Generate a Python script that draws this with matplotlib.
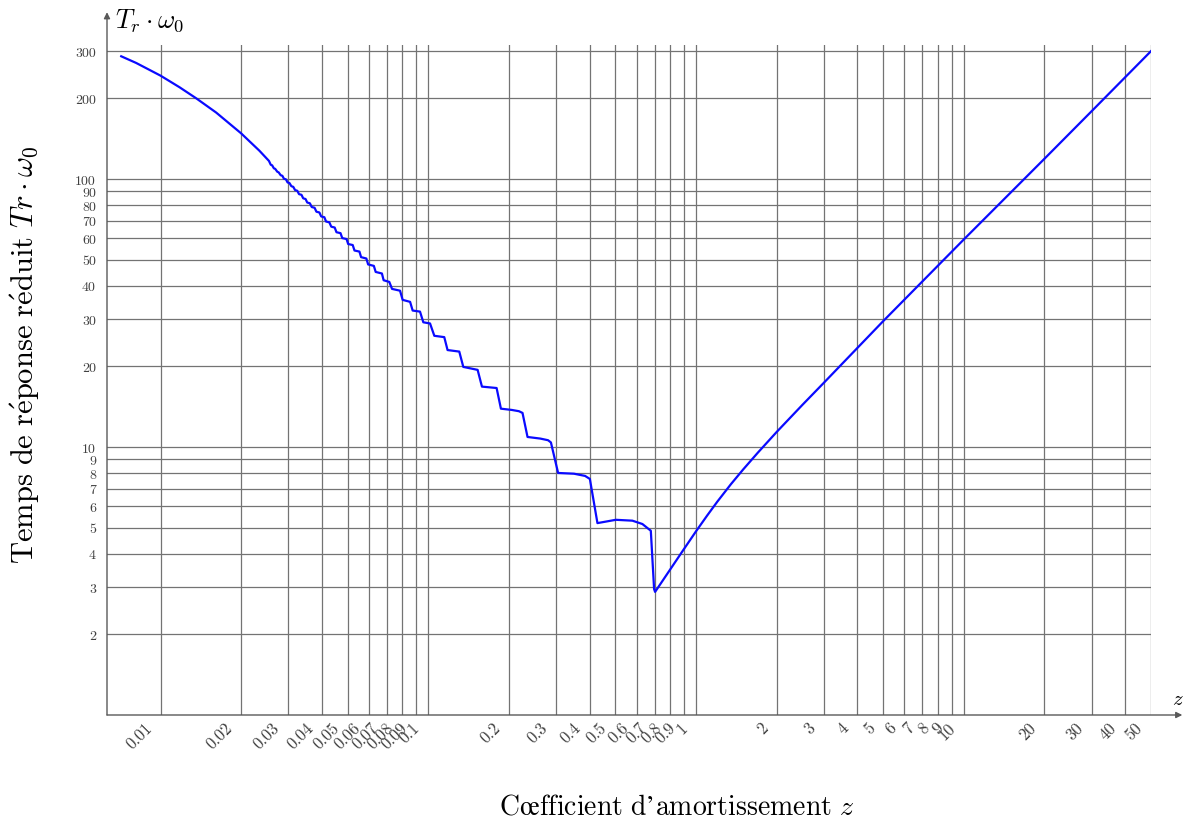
import matplotlib
matplotlib.use("Agg")
import matplotlib.pyplot as plt
from matplotlib.ticker import NullLocator
from matplotlib.transforms import ScaledTranslation

plt.rcParams['mathtext.fontset'] = 'cm'
plt.rcParams['font.family'] = ['cmr10', 'DejaVu Serif']
plt.rcParams['axes.unicode_minus'] = False

# smooth part, small damping
z_top = [0.00713, 0.00811, 0.0100, 0.01177, 0.01359, 0.01613, 0.0200, 0.0234, 0.0254]
tr_top = [287, 271, 243, 220, 200, 177, 148, 127.5, 116.8]

# small stairs: start / end of each flat part (z and Tr*w0)
step_z_start = [0.0258, 0.0265, 0.0273, 0.0281, 0.0289, 0.0298, 0.0308, 0.0318,
                0.0329, 0.0341, 0.0353, 0.0367, 0.0382, 0.0398, 0.0415, 0.0434,
                0.0454, 0.0477, 0.0502, 0.0530, 0.0561, 0.0596, 0.0636, 0.0681,
                0.0732, 0.0802, 0.0874, 0.0958, 0.1053, 0.1180, 0.1351, 0.1586]
step_z_end = [0.0261, 0.0268, 0.0276, 0.0285, 0.0294, 0.0303, 0.0313, 0.0324,
              0.0336, 0.0348, 0.0361, 0.0376, 0.0392, 0.0409, 0.0427, 0.0447,
              0.0470, 0.0495, 0.0522, 0.0553, 0.0587, 0.0626, 0.0671, 0.0715,
              0.0784, 0.0855, 0.0931, 0.1015, 0.1147, 0.1305, 0.1528, 0.1799]
step_tr_start = [113.0, 109.6, 106.4, 103.3, 100.2, 97.1, 94.0, 90.9,
                 87.8, 84.7, 81.7, 78.6, 75.5, 72.5, 69.4, 66.4,
                 63.3, 60.2, 57.2, 54.1, 51.1, 48.0, 45.0, 41.9,
                 38.9, 35.4, 32.3, 29.2, 26.0, 23.0, 19.9, 16.8]
step_tr_end = [112.5, 109.1, 105.9, 102.8, 99.7, 96.6, 93.5, 90.4,
               87.3, 84.2, 81.2, 78.1, 75.0, 72.0, 68.9, 65.9,
               62.8, 59.7, 56.7, 53.6, 50.5, 47.4, 44.4, 41.3,
               38.3, 34.8, 32.0, 28.9, 25.7, 22.7, 19.4, 16.6]

# large stairs and valley
z_big = [0.1867, 0.205, 0.218, 0.2248, 0.2347, 0.262, 0.280, 0.287,
         0.3053, 0.350, 0.385, 0.4012, 0.4282, 0.5016, 0.5784, 0.6302,
         0.6776, 0.697, 0.703]
tr_big = [13.9, 13.75, 13.6, 13.4, 10.9, 10.75, 10.6, 10.4,
          8.0, 7.95, 7.8, 7.6, 5.2, 5.35, 5.31, 5.16,
          4.87, 2.95, 2.88]

# overdamped branch
z_rise = [0.889, 1.0, 1.1, 1.2, 1.35, 1.5, 1.7, 2.0, 2.5, 3.0, 5.0, 10.0, 20.0, 30.0, 50.0]
tr_rise = [4.08, 4.85, 5.55, 6.25, 7.27, 8.25, 9.52, 11.38, 14.39, 17.36, 29.5, 59.5, 119, 179, 300]

x_ticks = [0.01, 0.02, 0.03, 0.04, 0.05, 0.06, 0.07, 0.08, 0.09,
           0.1, 0.2, 0.3, 0.4, 0.5, 0.6, 0.7, 0.8, 0.9,
           1, 2, 3, 4, 5, 6, 7, 8, 9, 10, 20, 30, 40, 50]
x_labels = ['0.01', '0.02', '0.03', '0.04', '0.05', '0.06', '0.07', '0.08', '0.09',
            '0.1', '0.2', '0.3', '0.4', '0.5', '0.6', '0.7', '0.8', '0.9',
            '1', '2', '3', '4', '5', '6', '7', '8', '9', '10', '20', '30', '40', '50']
y_ticks = [2, 3, 4, 5, 6, 7, 8, 9, 10, 20, 30, 40, 50, 60, 70, 80, 90, 100, 200, 300]
y_labels = ['2', '3', '4', '5', '6', '7', '8', '9', '10', '20', '30', '40', '50',
            '60', '70', '80', '90', '100', '200', '300']

# build the whole curve
z_all = list(z_top)
tr_all = list(tr_top)
for zs, ze, ts, te in zip(step_z_start, step_z_end, step_tr_start, step_tr_end):
    z_all += [zs, ze]
    tr_all += [ts, te]
z_all += z_big + z_rise
tr_all += tr_big + tr_rise

fig = plt.figure(figsize=(11.89, 8.28), dpi=100)
ax = fig.add_axes([107 / 1189, 112 / 828, 1044 / 1189, 670 / 828])
ax.set_xscale('log')
ax.set_yscale('log')
ax.set_xlim(10 ** -2.2, 50)
ax.set_ylim(1, 10 ** 2.5)

ax.plot(z_all, tr_all, color='#0a0aff', lw=1.6, zorder=3)

ax.set_xticks(x_ticks, labels=x_labels)
ax.set_yticks(y_ticks, labels=y_labels)
ax.xaxis.set_minor_locator(NullLocator())
ax.yaxis.set_minor_locator(NullLocator())
ax.tick_params(axis='both', length=0, labelcolor='0.25')
ax.tick_params(axis='x', pad=3, labelsize=12)
ax.tick_params(axis='y', pad=8, labelsize=10)
shift = ScaledTranslation(-4 / 72, 0, fig.dpi_scale_trans)
for lbl in ax.get_xticklabels():
    lbl.set_rotation(45)
    lbl.set_ha('right')
    lbl.set_transform(lbl.get_transform() + shift)

ax.grid(True, which='major', color='0.45', lw=0.9)
for s in ax.spines.values():
    s.set_visible(False)

# axis arrows
arrow = dict(arrowstyle='-|>', color='0.35', lw=1.0, mutation_scale=9, shrinkA=0, shrinkB=0)
ax.annotate('', xy=(0, 1.049), xytext=(0, 0), xycoords='axes fraction',
            textcoords='axes fraction', arrowprops=arrow, annotation_clip=False)
ax.annotate('', xy=(1.03, 0), xytext=(0, 0), xycoords='axes fraction',
            textcoords='axes fraction', arrowprops=arrow, annotation_clip=False)

fig.text(115 / 1189, 1 - 28 / 828, r'$T_r\cdot\omega_0$', fontsize=19, va='baseline')
fig.text(1178 / 1189, 1 - 705 / 828, r'$z$', fontsize=15, ha='center', va='baseline')
fig.text(677 / 1189, 1 - 807 / 828,
         r'$\mathrm{C\oe fficient\ d’amortissement}\ z$', fontsize=20,
         ha='center', va='center')
fig.text(25 / 1189, 1 - 355 / 828,
         r'$\mathrm{Temps\ de\ r\acute{e}ponse\ r\acute{e}duit}\ Tr\cdot\omega_0$',
         fontsize=22, ha='center', va='center', rotation=90)

fig.savefig('out.png', dpi=100)
